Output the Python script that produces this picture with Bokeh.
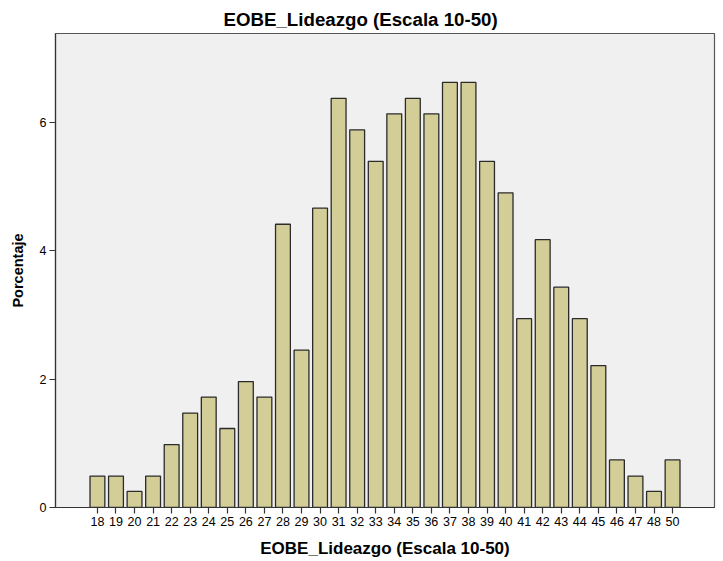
from bokeh.plotting import figure
from bokeh.models import FactorRange, FixedTicker, ColumnDataSource
from bokeh.embed import file_html
from bokeh.resources import INLINE

categories = ["18","19","20","21","22","23","24","25","26","27","28","29","30","31","32","33",
              "34","35","36","37","38","39","40","41","42","43","44","45","46","47","48","50"]
percentages = [0.49,0.49,0.25,0.49,0.98,1.47,1.72,1.23,1.96,1.72,4.41,2.45,4.66,6.37,5.88,5.39,
               6.13,6.37,6.13,6.62,6.62,5.39,4.90,2.94,4.17,3.43,2.94,2.21,0.74,0.49,0.25,0.74]
y_ticks = [0, 2, 4, 6]

FONT = "Liberation Sans"

src = ColumnDataSource(data=dict(cat=categories, pct=percentages))

p = figure(width=720, height=561, output_backend="svg", toolbar_location=None,
           x_range=FactorRange(factors=categories, range_padding=0.11, range_padding_units="percent"),
           y_range=(0, 7.38),
           min_border_left=55, min_border_right=6, min_border_top=33, min_border_bottom=54,
           title="EOBE_Lideazgo (Escala 10-50)")

p.vbar(x="cat", top="pct", width=0.8, source=src, fill_color="#D3CE98",
       line_color="#2b2b2b", line_width=1.3)

p.background_fill_color = "#F0F0F0"
p.border_fill_color = "white"
p.outline_line_color = "#555555"
p.outline_line_width = 1.2
p.grid.visible = False

p.title.text_font = FONT
p.title.text_font_size = "18.7px"
p.title.text_font_style = "bold"
p.title.text_color = "black"
p.title.align = "left"
p.title.offset = 168
p.title.standoff = 8

p.xaxis.axis_label = "EOBE_Lideazgo (Escala 10-50)"
p.yaxis.axis_label = "Porcentaje"
for ax in (p.xaxis, p.yaxis):
    ax.axis_label_text_font = FONT
    ax.axis_label_text_font_style = "bold"
    ax.major_label_text_font = FONT
    ax.major_label_text_color = "black"
    ax.axis_label_text_color = "black"
    ax.axis_line_color = "#333333"
    ax.axis_line_width = 1.2
    ax.major_tick_line_color = "#333333"
    ax.major_tick_line_width = 1.2
    ax.major_tick_out = 6
    ax.major_tick_in = 0
    ax.minor_tick_line_color = None
    ax.major_label_standoff = 3

p.xaxis.axis_label_text_font_size = "17px"
p.xaxis.major_label_text_font_size = "12.5px"
p.xaxis.axis_label_standoff = 10
p.yaxis.axis_label_text_font_size = "14.5px"
p.yaxis.major_label_text_font_size = "12.5px"
p.yaxis.axis_label_standoff = 11
p.yaxis.ticker = FixedTicker(ticks=y_ticks)

open("out.html", "w").write(file_html(p, INLINE))
